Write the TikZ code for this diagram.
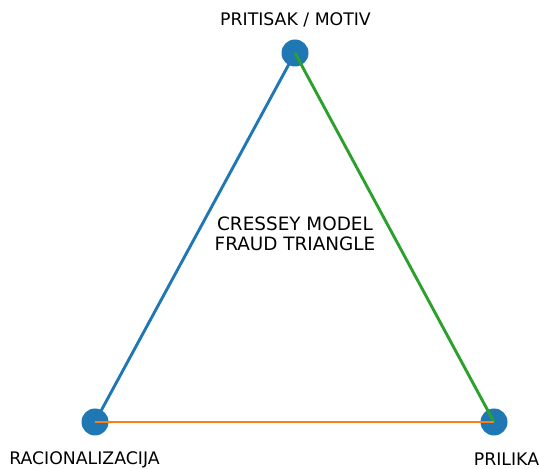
\documentclass[tikz,border=0pt]{standalone}
\usepackage{fontspec}
\setmainfont{DejaVu Sans}
\usepackage{tikz}
\usetikzlibrary{backgrounds}

\definecolor{mplblue}{HTML}{1F77B4}
\definecolor{mplorange}{HTML}{FF7F0E}
\definecolor{mplgreen}{HTML}{2CA02C}

\begin{document}
\begin{tikzpicture}[x=1pt, y=1pt,
        node_style/.style={circle,fill=mplblue,minimum size=27pt,inner sep=0pt},
        label_style/.style={anchor=base,inner sep=0pt,font=\fontsize{17.3}{20}\selectfont},
        title_style/.style={anchor=base,inner sep=0pt,font=\fontsize{18.4}{21}\selectfont},
        edge_style/.style={line width=2.9pt,-}]
        \useasboundingbox (0,0) rectangle (539,469);

        \node [node_style](n1) at (295,416) {};
        \node [node_style](n2) at (95,47) {};
        \node [node_style](n3) at (494,47) {};

        \node [label_style](l1) at (295.5,443) {PRITISAK / MOTIV};
        \node [label_style](l2) at (84.5,4) {RACIONALIZACIJA};
        \node [label_style](l3) at (506.5,3.5) {PRILIKA};
        \node [title_style](t1) at (295,238) {CRESSEY MODEL};
        \node [title_style](t2) at (295,218) {FRAUD TRIANGLE};

        \begin{scope}[on background layer]
        \draw [edge_style, draw=mplblue] (n1.center) -- (n2.center);
        \end{scope}
        \draw [edge_style, draw=mplgreen] (n1.center) -- (n3.center);
        \draw [edge_style, draw=mplorange] (n2.center) -- (n3.center);
\end{tikzpicture}
\end{document}
